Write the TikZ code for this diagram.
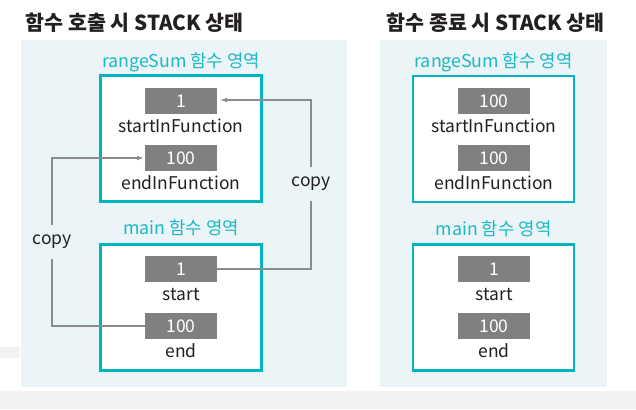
\documentclass[tikz,border=0pt]{standalone}
\usepackage{fontspec}
\setmainfont{Noto Sans CJK KR}
\usetikzlibrary{arrows.meta}
\usetikzlibrary{positioning}
\tikzset{>={Latex[length=7pt,width=5pt]}}
\definecolor{panelbg}{HTML}{EBF4F7}
\definecolor{frameteal}{HTML}{00B5C0}
\definecolor{areateal}{HTML}{1CB9C4}
\definecolor{valgray}{HTML}{808080}
\definecolor{linegray}{HTML}{8C8C8C}
\definecolor{txtdark}{HTML}{231F20}
\definecolor{stripgray}{HTML}{F2F2F2}
\tikzset{
	frame/.style={draw=frameteal,line width=2.6pt,fill=white,
		minimum width=161pt,minimum height=126pt,inner sep=0},
	val/.style={fill=valgray,text=white,font=\fontsize{17.5}{17.5}\selectfont,
		minimum width=72pt,minimum height=26pt,inner sep=0},
	var/.style={text=txtdark,font=\fontsize{17.5}{17.5}\selectfont},
	area/.style={text=areateal,font=\fontsize{17.8}{17.8}\selectfont},
	ttl/.style={text=txtdark,font=\fontsize{20.6}{20.6}\selectfont\bfseries,anchor=base west},
	copyline/.style={draw=linegray,line width=1.2pt},
	copytag/.style={text=txtdark,font=\fontsize{17.5}{17.5}\selectfont,
		minimum height=33pt,inner sep=0},
}

\begin{document}
\begin{tikzpicture}[x=1pt,y=-1pt]
	\useasboundingbox (0,0) rectangle (636,409);
	
	% BACKGROUND
	\fill[stripgray] (0,391) rectangle (636,409);
	\fill[stripgray] (0,347) rectangle (20,358);
	\fill[panelbg] (21,40) rectangle (347,387);
	\fill[panelbg] (380,40) rectangle (607,387);
	
	\node[ttl] (titleCall) at (22,31) {함수 호출 시 STACK 상태};
	\node[ttl] (titleEnd) at (383,31) {함수 종료 시 STACK 상태};
	
	% CALL
	\node[area] (areaRS) at (181,62) {rangeSum 함수 영역};
	\node[frame] (frameRS) at (181,138.5) {};
	\node[val] (startIn) at (181,101) {1};
	\node[var] at (181,126) {startInFunction};
	\node[val] (endIn) at (181,158) {100};
	\node[var] at (181,183) {endInFunction};
	
	\node[area] (areaMain) at (181,228) {main 함수 영역};
	\node[frame] (frameMain) at (181,307.5) {};
	\node[val] (start) at (181,269) {1};
	\node[var] at (181,295) {start};
	\node[val] (end) at (181,326) {100};
	\node[var] at (181,351) {end};
	
	\node[copytag] (copyR) at (311,184) {copy};
	\node[copytag] (copyL) at (52,242) {copy};
	
	\draw[copyline] (start.east) -| (copyR.south);
	\draw[copyline,->,shorten >=3pt] (copyR.north) |- ([yshift=1pt]startIn.east);
	\draw[copyline] (end.west) -| (copyL.south);
	\draw[copyline,->,shorten >=1pt] (copyL.north) |- (endIn.west);
	
	% END
	\node[area] (areaRS2) at (493.5,62) {rangeSum 함수 영역};
	\node[frame] (frameRS2) at (493.5,139) {};
	\node[val] (startIn2) at (494,101) {100};
	\node[var] at (494,126) {startInFunction};
	\node[val] (endIn2) at (494,158) {100};
	\node[var] at (494,183) {endInFunction};
	
	\node[area] (areaMain2) at (493.5,229) {main 함수 영역};
	\node[frame] (frameMain2) at (493.5,307.5) {};
	\node[val] (start2) at (494,269) {1};
	\node[var] at (494,295) {start};
	\node[val] (end2) at (494,326) {100};
	\node[var] at (494,351) {end};
\end{tikzpicture}
\end{document}
